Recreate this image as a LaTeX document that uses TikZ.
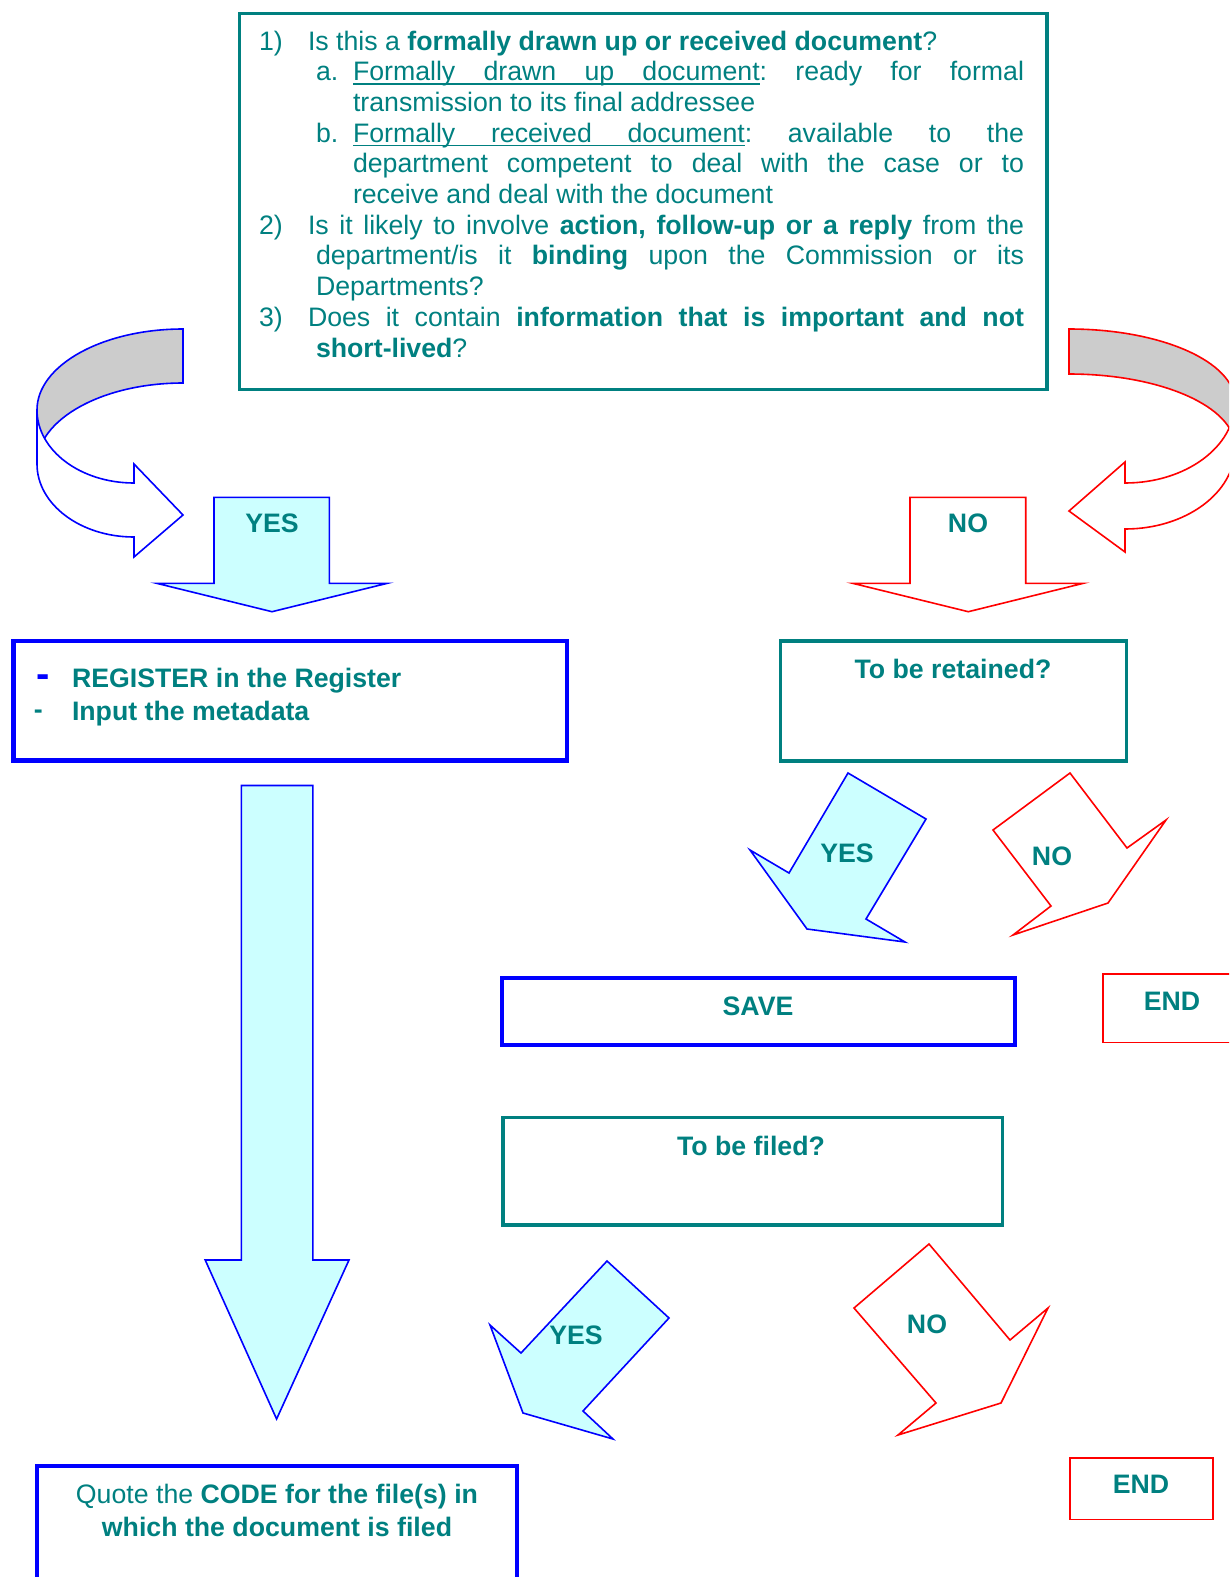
\documentclass[tikz,border=0pt]{standalone}
\usepackage{fontspec}
\setmainfont{Liberation Sans}
\newcommand{\ulword}[1]{\setbox0\hbox{#1}\rlap{\rule[-4.2pt]{\wd0}{1.6pt}}\box0}
\newcommand{\ulsp}{\leaders\hrule height -2.6pt depth 4.2pt\hskip\fontdimen2\font plus \fontdimen3\font minus \fontdimen4\font\relax}
\definecolor{tealc}{RGB}{0,128,128}
\definecolor{cyanfill}{RGB}{204,255,255}
\definecolor{bandgray}{RGB}{204,204,204}
\definecolor{bluec}{RGB}{0,0,255}
\definecolor{redc}{RGB}{255,0,0}
\tikzset{
  txt/.style={inner sep=0pt, outer sep=0pt, text=tealc, font=\fontsize{26.7}{30.7}\selectfont\frenchspacing, anchor=base west},
  lbl/.style={inner sep=0pt, outer sep=0pt, text=tealc, font=\fontsize{26.7}{30.7}\selectfont\bfseries, anchor=base},
  tealbox/.style={draw=tealc, line width=3.5pt},
  bluebox/.style={draw=bluec, line width=4.6pt},
  redbox/.style={draw=redc, line width=1.8pt},
  yesarrow/.style={draw=bluec, fill=cyanfill, line width=1.6pt, line join=miter},
  noarrow/.style={draw=redc, fill=white, line width=1.6pt, line join=miter},
  bluecurl/.style={draw=bluec, line width=1.6pt},
  redcurl/.style={draw=redc, line width=1.6pt},
}
\begin{document}
\begin{tikzpicture}[x=1pt,y=-1pt]
\useasboundingbox (0,0) rectangle (1229,1577);
\clip (0,0) rectangle (1229,1577);

% ---- left (blue) curved arrow ----
\draw[bluecurl, fill=bandgray] (183,329) .. controls (102.4,329) and (37,365.3) .. (37,410)
  -- (37,464) .. controls (37,419.3) and (102.4,383) .. (183,383) -- cycle;
\draw[bluecurl, fill=white, line join=miter] (37,410) .. controls (37,450.3) and (80.4,483) .. (134,483)
  -- (134,464) -- (183,515) -- (134,557) -- (134,537)
  .. controls (80.4,537) and (37,504.3) .. (37,464) -- cycle;

% ---- right (red) curved arrow ----
\draw[redcurl, fill=bandgray] (1069,329) .. controls (1160.7,329) and (1235,361.7) .. (1235,402)
  -- (1235,447) .. controls (1235,406.7) and (1160.7,374) .. (1069,374) -- cycle;
\draw[redcurl, fill=white, line join=miter] (1235,402) .. controls (1235,446.7) and (1185.8,483) .. (1125,483)
  -- (1125,462) -- (1069,511) -- (1125,552) -- (1125,529)
  .. controls (1185.8,529) and (1235,492.7) .. (1235,448) -- cycle;

% ---- question box ----
\draw[tealbox] (239.5,13.7) rectangle (1047,389.5);
\node[txt] (n1) at (259,50) {1)};
\node[txt] (q1) at (308,50) {Is this a \textbf{formally drawn up or received document}?};
\node[txt] (na) at (316,80.7) {a.};
\node[txt] (qa1) at (353,80.7) {\hbox to 671pt{\ulword{Formally}\ulsp\ulword{drawn}\ulsp\ulword{up}\ulsp\ulword{document}: ready for formal}};
\node[txt] (qa2) at (353,111.4) {transmission to its final addressee};
\node[txt] (nb) at (316,142.1) {b.};
\node[txt] (qb1) at (353,142.1) {\hbox to 671pt{\ulword{Formally}\ulsp\ulword{received}\ulsp\ulword{document}: available to the}};
\node[txt] (qb2) at (353,172.8) {\hbox to 671pt{department competent to deal with the case or to}};
\node[txt] (qb3) at (353,203.5) {receive and deal with the document};
\node[txt] (n2) at (259,234.2) {2)};
\node[txt] (q2a) at (308,234.2) {\hbox to 716pt{Is it likely to involve \textbf{action, follow-up or a reply} from the}};
\node[txt] (q2b) at (316,264.9) {\hbox to 708pt{department/is it \textbf{binding} upon the Commission or its}};
\node[txt] (q2c) at (316,295.6) {Departments?};
\node[txt] (n3) at (259,326.3) {3)};
\node[txt] (q3a) at (308,326.3) {\hbox to 716pt{Does it contain \textbf{information that is important and not}}};
\node[txt] (q3b) at (316,357) {\textbf{short-lived}?};

% ---- top YES / NO arrows ----
\draw[yesarrow] (214,497.3) -- (329.3,497.3) -- (329.3,583.3) -- (387.3,583.3) -- (272,611.7)
  -- (156.7,583.3) -- (214,583.3) -- cycle;
\node[lbl] (yes1) at (272,532.5) {YES};
\draw[noarrow] (910,497.3) -- (1025.7,497.3) -- (1025.7,583.3) -- (1083.3,583.3) -- (968.3,611.7)
  -- (852.7,583.3) -- (910,583.3) -- cycle;
\node[lbl] (no1) at (968,532.5) {NO};

% ---- register box ----
\draw[bluebox] (13.4,641) rectangle (567,760.5);
\node[txt, text=bluec, font=\fontsize{40}{42}\selectfont\bfseries] (d1) at (36,687.4) {-};
\node[txt, font=\fontsize{26.7}{30.7}\selectfont\bfseries] (d2) at (33.8,718) {-};
\node[txt] (reg1) at (72,687) {\textbf{REGISTER in the Register}};
\node[txt] (reg2) at (72,720) {\textbf{Input the metadata}};

% ---- retained box ----
\draw[tealbox] (780.5,641) rectangle (1126.5,761);
\node[lbl] (ret) at (953,678.5) {To be retained?};

% ---- big down arrow ----
\draw[yesarrow] (241.4,785.5) -- (312.8,785.5) -- (312.8,1260) -- (349,1260) -- (276.6,1419)
  -- (205.2,1260) -- (241.4,1260) -- cycle;

% ---- retained YES / NO ----
\draw[yesarrow] (848,773) -- (926,819) -- (866,919) -- (905,942) -- (807,929) -- (750,850) -- (789,873) -- cycle;
\node[lbl] (yes2) at (847,862) {YES};
\draw[noarrow] (1070,773) -- (1127,848) -- (1166,820) -- (1108,903) -- (1013,935) -- (1051,906) -- (993,830) -- cycle;
\node[lbl] (no2) at (1052,865) {NO};

% ---- save / end ----
\draw[bluebox] (502,978) rectangle (1015,1045);
\node[lbl] (save) at (758,1015) {SAVE};
\draw[redbox] (1103,974) rectangle (1240,1042.5);
\node[lbl] (end1) at (1172,1010) {END};

% ---- filed box ----
\draw[tealbox] (503,1117.5) rectangle (1002.7,1225);
\node[lbl] (filed) at (751,1155) {To be filed?};

% ---- filed YES / NO ----
\draw[yesarrow] (607,1261) -- (669,1318) -- (583,1411) -- (613,1439) -- (523,1413) -- (490,1325) -- (521,1353) -- cycle;
\node[lbl] (yes3) at (576,1344) {YES};
\draw[noarrow] (929,1244) -- (1010,1340) -- (1048,1308) -- (1001,1403) -- (898,1435) -- (936,1403) -- (854,1308) -- cycle;
\node[lbl] (no3) at (927,1333) {NO};

% ---- quote box / end ----
\draw[bluebox] (37,1466) rectangle (517,1600);
\node[txt, anchor=base] (quote1) at (277,1503) {Quote the \textbf{CODE for the file(s) in}};
\node[txt, anchor=base] (quote2) at (277,1536) {\textbf{which the document is filed}};
\draw[redbox] (1070,1458) rectangle (1213,1519.5);
\node[lbl] (end2) at (1141,1493) {END};
\end{tikzpicture}
\end{document}
